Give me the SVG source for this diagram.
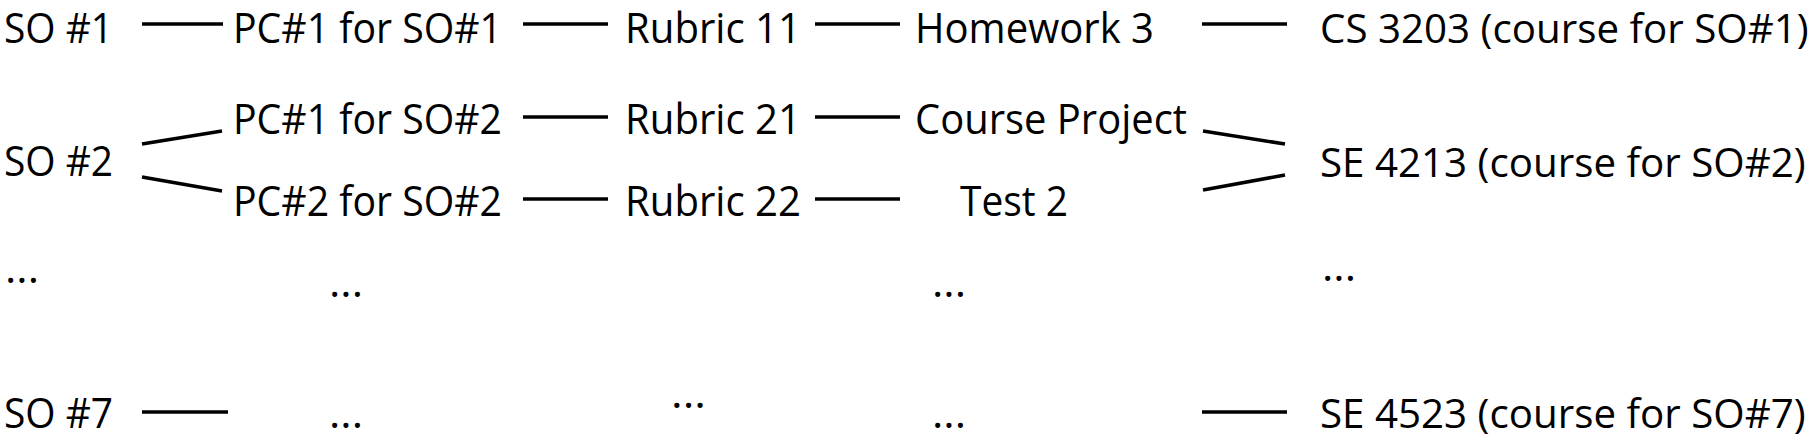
<svg xmlns="http://www.w3.org/2000/svg" width="1814" height="444" viewBox="0 0 1814 444">
<style>
  text { font-family: "Open Sans", "Noto Sans", "Liberation Sans", sans-serif; font-size: 42px; fill: #000; }
  .r { font-size: 40.3px; }
  .c line { stroke: #000; stroke-width: 3.5; }
</style>
<rect width="1814" height="444" fill="#fff"/>
<g class="c" id="connectors">
  <line x1="142" y1="24" x2="223" y2="24"/>
  <line x1="523" y1="24" x2="608" y2="24"/>
  <line x1="815" y1="24" x2="900" y2="24"/>
  <line x1="1202" y1="24" x2="1287" y2="24"/>
  <line x1="142" y1="144" x2="222" y2="131"/>
  <line x1="142" y1="177" x2="222" y2="191"/>
  <line x1="523" y1="117" x2="608" y2="117"/>
  <line x1="815" y1="117" x2="900" y2="117"/>
  <line x1="1203" y1="131" x2="1285" y2="144"/>
  <line x1="523" y1="199" x2="608" y2="199"/>
  <line x1="815" y1="199" x2="900" y2="199"/>
  <line x1="1203" y1="190" x2="1285" y2="175"/>
  <line x1="142" y1="412" x2="228" y2="412"/>
  <line x1="1202" y1="412" x2="1287" y2="412"/>
</g>
<g id="so1"><text x="4" y="43" textLength="109" lengthAdjust="spacingAndGlyphs">SO #1</text></g>
<g id="pc1so1"><text x="233" y="43" textLength="269" lengthAdjust="spacingAndGlyphs">PC#1 for SO#1</text></g>
<g id="rubric11"><text x="625" y="43" textLength="176" lengthAdjust="spacingAndGlyphs">Rubric 11</text></g>
<g id="homework3"><text x="915" y="43" textLength="239" lengthAdjust="spacingAndGlyphs">Homework 3</text></g>
<g id="cs3203"><text class="r" x="1320" y="43">CS 3203 (course for SO#1)</text></g>
<g id="pc1so2"><text x="233" y="134" textLength="269" lengthAdjust="spacingAndGlyphs">PC#1 for SO#2</text></g>
<g id="rubric21"><text x="625" y="134" textLength="176" lengthAdjust="spacingAndGlyphs">Rubric 21</text></g>
<g id="courseproject"><text x="915" y="134" textLength="272" lengthAdjust="spacingAndGlyphs">Course Project</text></g>
<g id="so2"><text x="4" y="176" textLength="109" lengthAdjust="spacingAndGlyphs">SO #2</text></g>
<g id="se4213"><text class="r" x="1320" y="177">SE 4213 (course for SO#2)</text></g>
<g id="pc2so2"><text x="233" y="216" textLength="269" lengthAdjust="spacingAndGlyphs">PC#2 for SO#2</text></g>
<g id="rubric22"><text x="625" y="216" textLength="176" lengthAdjust="spacingAndGlyphs">Rubric 22</text></g>
<g id="test2"><text x="960" y="216" textLength="108" lengthAdjust="spacingAndGlyphs">Test 2</text></g>
<g id="dots-so"><text x="5" y="283" textLength="34" lengthAdjust="spacingAndGlyphs">...</text></g>
<g id="dots-pc"><text x="329" y="297" textLength="34" lengthAdjust="spacingAndGlyphs">...</text></g>
<g id="dots-assess"><text x="932" y="297" textLength="34" lengthAdjust="spacingAndGlyphs">...</text></g>
<g id="dots-course"><text x="1322" y="281" textLength="34" lengthAdjust="spacingAndGlyphs">...</text></g>
<g id="so7"><text x="4" y="428" textLength="109" lengthAdjust="spacingAndGlyphs">SO #7</text></g>
<g id="dots-pc7"><text x="329" y="428" textLength="34" lengthAdjust="spacingAndGlyphs">...</text></g>
<g id="dots-rubric7"><text x="671" y="408" textLength="35" lengthAdjust="spacingAndGlyphs">...</text></g>
<g id="dots-assess7"><text x="932" y="428" textLength="34" lengthAdjust="spacingAndGlyphs">...</text></g>
<g id="se4523"><text class="r" x="1320" y="428">SE 4523 (course for SO#7)</text></g>
</svg>
